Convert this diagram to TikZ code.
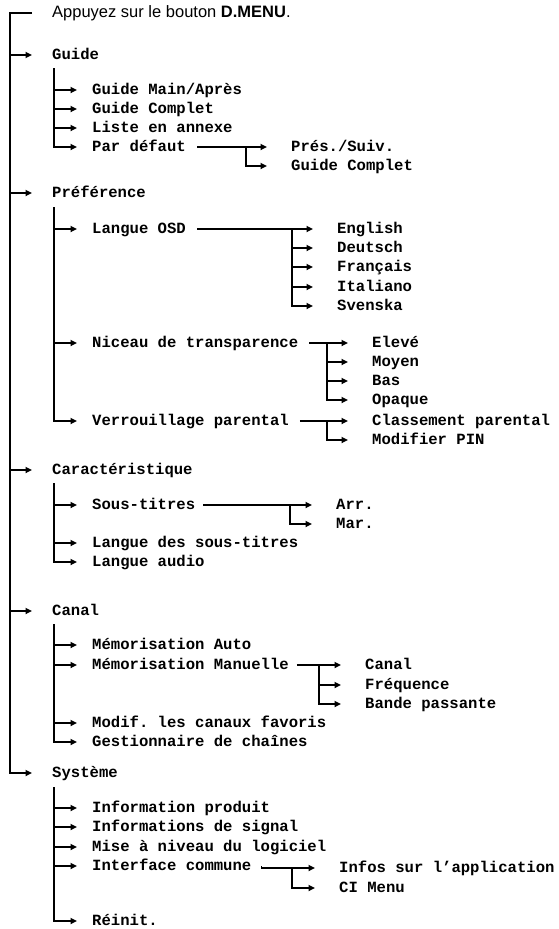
\documentclass[tikz,border=0pt]{standalone}
\usepackage{fontspec}
\setmainfont{Liberation Sans}
\setmonofont{Liberation Mono}
\usetikzlibrary{arrows.meta}
\newcommand{\menufont}{\ttfamily\bfseries\fontsize{15.6}{16}\selectfont}
\tikzset{
  item/.style={anchor=west, inner sep=0pt, text height=10pt, text depth=1pt, font=\menufont},
  arr/.style={line width=1.8pt, -{Triangle[length=6.5pt,width=6pt]}}
}
\begin{document}
\begin{tikzpicture}[x=1pt, y=-1pt]
  \useasboundingbox (0,0) rectangle (559,929);
  % first level
  \node[item, font=\fontsize{16.5}{18}\selectfont] (top) at (52,13) {Appuyez sur le bouton \textbf{D.MENU}.};
  \node[item] (gd) at (52,55) {Guide};
  \node[item] (pref) at (52,193) {Préférence};
  \node[item] (car) at (52,470) {Caractéristique};
  \node[item] (can) at (52,611) {Canal};
  \node[item] (sys) at (52,773) {Système};
  \coordinate (trunk) at (10,13);
  \draw[arr] ([xshift=-20pt]top.west) -- (trunk) |- ([xshift=-20pt]sys.west);
  \foreach \n in {gd,pref,car,can}
    \draw[arr] (trunk |- \n.west) -- ([xshift=-20pt]\n.west);

  % Guide
  \node[item] (gmain) at (92,90) {Guide Main/Après};
  \node[item] (gcomp) at (92,109) {Guide Complet};
  \node[item] (glist) at (92,128) {Liste en annexe};
  \node[item] (gpar) at (92,147) {Par défaut};
  \node[item] (pres) at (291,147) {Prés./Suiv.};
  \node[item] (gcomp2) at (291,166) {Guide Complet};
  \coordinate (vgd) at (54,68);
  \draw[arr] (vgd) |- ([xshift=-15pt]gpar.west);
  \foreach \n in {gmain,gcomp,glist}
    \draw[arr] (vgd |- \n.west) -- ([xshift=-15pt]\n.west);
  \coordinate (jpar) at (246,147);
  \draw[arr] ([xshift=11pt]gpar.east) -- ([xshift=-24pt]pres.west);
  \draw[arr] (jpar) |- ([xshift=-24pt]gcomp2.west);

  % Preference
  \node[item] (osd) at (92,229) {Langue OSD};
  \node[item] (transp) at (92,343) {Niceau de transparence};
  \node[item] (verrou) at (92,421) {Verrouillage parental};
  \coordinate (vpref) at (54,207);
  \draw[arr] (vpref) |- ([xshift=-15pt]verrou.west);
  \foreach \n in {osd,transp}
    \draw[arr] (vpref |- \n.west) -- ([xshift=-15pt]\n.west);
  % langues
  \node[item] (eng) at (337,229) {English};
  \node[item] (deu) at (337,248) {Deutsch};
  \node[item] (fra) at (337,267) {Français};
  \node[item] (ita) at (337,287) {Italiano};
  \node[item] (sve) at (337,306) {Svenska};
  \coordinate (josd) at (292,229);
  \draw[arr] ([xshift=11pt]osd.east) -- ([xshift=-24pt]eng.west);
  \draw[arr] (josd) |- ([xshift=-24pt]sve.west);
  \foreach \n in {deu,fra,ita}
    \draw[arr] (josd |- \n.west) -- ([xshift=-24pt]\n.west);
  % transparence
  \node[item] (elev) at (372,343) {Elevé};
  \node[item] (moy) at (372,362) {Moyen};
  \node[item] (bas) at (372,381) {Bas};
  \node[item] (opq) at (372,400) {Opaque};
  \coordinate (jtr) at (327,343);
  \draw[arr] ([xshift=11pt]transp.east) -- ([xshift=-24pt]elev.west);
  \draw[arr] (jtr) |- ([xshift=-24pt]opq.west);
  \foreach \n in {moy,bas}
    \draw[arr] (jtr |- \n.west) -- ([xshift=-24pt]\n.west);
  % verrouillage
  \node[item] (class) at (372,421) {Classement parental};
  \node[item] (pin) at (372,440) {Modifier PIN};
  \coordinate (jver) at (327,421);
  \draw[arr] ([xshift=11pt]verrou.east) -- ([xshift=-24pt]class.west);
  \draw[arr] (jver) |- ([xshift=-24pt]pin.west);

  % Caracteristique
  \node[item] (stit) at (92,505) {Sous-titres};
  \node[item] (lsub) at (92,543) {Langue des sous-titres};
  \node[item] (laud) at (92,562) {Langue audio};
  \node[item] (arr) at (336,505) {Arr.};
  \node[item] (mar) at (336,524) {Mar.};
  \coordinate (vcar) at (54,483);
  \draw[arr] (vcar) |- ([xshift=-15pt]laud.west);
  \foreach \n in {stit,lsub}
    \draw[arr] (vcar |- \n.west) -- ([xshift=-15pt]\n.west);
  \coordinate (jst) at (290,505);
  \draw[arr] ([xshift=8pt]stit.east) -- ([xshift=-24pt]arr.west);
  \draw[arr] (jst) |- ([xshift=-24pt]mar.west);

  % Canal
  \node[item] (mauto) at (92,645) {Mémorisation Auto};
  \node[item] (mman) at (92,665) {Mémorisation Manuelle};
  \node[item] (mfav) at (92,723) {Modif. les canaux favoris};
  \node[item] (gest) at (92,742) {Gestionnaire de chaînes};
  \node[item] (ccan) at (365,665) {Canal};
  \node[item] (freq) at (365,685) {Fréquence};
  \node[item] (band) at (365,704) {Bande passante};
  \coordinate (vcan) at (54,624);
  \draw[arr] (vcan) |- ([xshift=-15pt]gest.west);
  \foreach \n in {mauto,mman,mfav}
    \draw[arr] (vcan |- \n.west) -- ([xshift=-15pt]\n.west);
  \coordinate (jman) at (319,665);
  \draw[arr] ([xshift=8pt]mman.east) -- ([xshift=-24pt]ccan.west);
  \draw[arr] (jman) |- ([xshift=-24pt]band.west);
  \draw[arr] (jman |- freq.west) -- ([xshift=-24pt]freq.west);

  % Systeme
  \node[item] (iprod) at (92,808) {Information produit};
  \node[item] (isig) at (92,827) {Informations de signal};
  \node[item] (maj) at (92,847) {Mise à niveau du logiciel};
  \node[item] (ifc) at (92,866) {Interface commune};
  \node[item] (reinit) at (92,921) {Réinit.};
  \node[item] (infos) at (339,868) {Infos sur l’application};
  \node[item] (cim) at (339,888) {CI Menu};
  \coordinate (vsys) at (54,787);
  \draw[arr] (vsys) |- ([xshift=-15pt]reinit.west);
  \foreach \n in {iprod,isig,maj,ifc}
    \draw[arr] (vsys |- \n.west) -- ([xshift=-15pt]\n.west);
  \coordinate (jifc) at (292,868);
  \draw[arr] ([xshift=10pt]ifc.east) |- ([xshift=-24pt]infos.west);
  \draw[arr] (jifc) |- ([xshift=-24pt]cim.west);
\end{tikzpicture}
\end{document}
